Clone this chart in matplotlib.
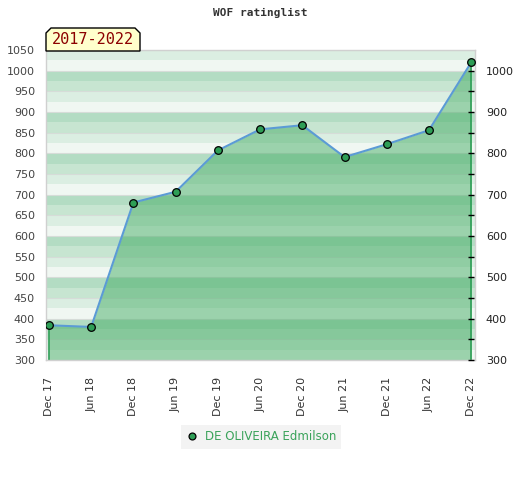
import numpy as np
import matplotlib.pyplot as plt
from matplotlib.patches import Polygon

# rating history
periods = ["Dec 17", "Jun 18", "Dec 18", "Jun 19", "Dec 19", "Jun 20",
           "Dec 20", "Jun 21", "Dec 21", "Jun 22", "Dec 22"]
ratings = [384, 380, 681, 707, 807, 858, 868, 791, 822, 856, 1020]
player = "DE OLIVEIRA Edmilson"
title = "WOF ratinglist"
span_label = "2017-2022"

# stripe colours inside each 100 block, bottom to top
band_colors = ["#f0f7f2", "#dbeee2", "#c7e5d1", "#b3dcc3"]

W, H = 520, 480
fig = plt.figure(figsize=(W / 100, H / 100), dpi=100)
ax = fig.add_axes([46 / W, 1 - 360 / H, 429 / W, 310 / H])

x = np.arange(len(periods))
ymin, ymax = 300, 1050

# striped background
for i, lo in enumerate(range(ymin, ymax, 25)):
    ax.axhspan(lo, lo + 25, color=band_colors[(lo // 25) % 4], lw=0, zorder=0)
for yv in range(ymin, ymax + 1, 50):
    ax.axhline(yv, color="#d6dcd8", lw=0.8, zorder=0.5)

ax.fill_between(x, ratings, ymin, color="#3faa60", alpha=0.48, lw=0, zorder=1)
ax.vlines([x[0], x[-1]], ymin, [ratings[0], ratings[-1]], color="#2e9e56", lw=1.2, zorder=2)
ax.plot(x, ratings, color="#5b9bd5", lw=1.5, zorder=3)
ax.plot(x, ratings, "o", ms=5.5, mfc="#2e9e56", mec="black", mew=0.9,
        lw=0, zorder=4, label=player)

ax.set_xlim(-0.07, 10.09)
ax.set_ylim(ymin, ymax)
ax.set_xticks(x)
ax.set_xticklabels(periods, rotation=90, fontsize=8, color="#333333")
ax.set_yticks(range(ymin, ymax + 1, 50))
ax.tick_params(axis="y", length=0, labelsize=8, labelcolor="#444444", pad=8)
ax.tick_params(axis="x", length=0, pad=12)
for s in ax.spines.values():
    s.set_color("#d0d0d0")
    s.set_linewidth(1)

# right axis sitting on the last period
ax2 = ax.twinx()
ax2.set_ylim(ymin, ymax)
ax2.spines["right"].set_position(("data", x[-1]))
for s in ax2.spines.values():
    s.set_color("none")
ax2.set_yticks(range(ymin, 1001, 100))
ax2.set_yticks(range(350, 1001, 100), minor=True)
ax2.tick_params(axis="y", which="both", direction="inout", length=5, width=1,
                color="black", labelsize=8, labelcolor="#222222", pad=8)

fig.text(0.5, 1 - 13 / H, title, ha="center", va="center",
         fontsize=8, fontweight="bold", family="DejaVu Sans Mono", color="#333333")

# period tag above the plot
px = [46, 46, 51, 135, 140, 140]
py = [51, 33, 28, 28, 33, 51]
tag = Polygon([(a / W, 1 - b / H) for a, b in zip(px, py)], closed=True,
              transform=fig.transFigure, facecolor="#ffffcc", edgecolor="black", lw=1)
fig.add_artist(tag)
fig.text(93 / W, 1 - 40 / H, span_label, ha="center", va="center",
         fontsize=11, family="DejaVu Sans Mono", color="#8b0000")

leg = ax.legend(loc="center", bbox_to_anchor=(261 / W, 1 - 437 / H),
                bbox_transform=fig.transFigure, frameon=True, fancybox=False,
                fontsize=8.5, labelcolor="#3aa35a", handletextpad=0.6,
                borderpad=0.45, handlelength=1.0, markerscale=0.9)
leg.get_frame().set_facecolor("#f0f0f0")
leg.get_frame().set_edgecolor("none")

fig.savefig("out.png", dpi=100)
